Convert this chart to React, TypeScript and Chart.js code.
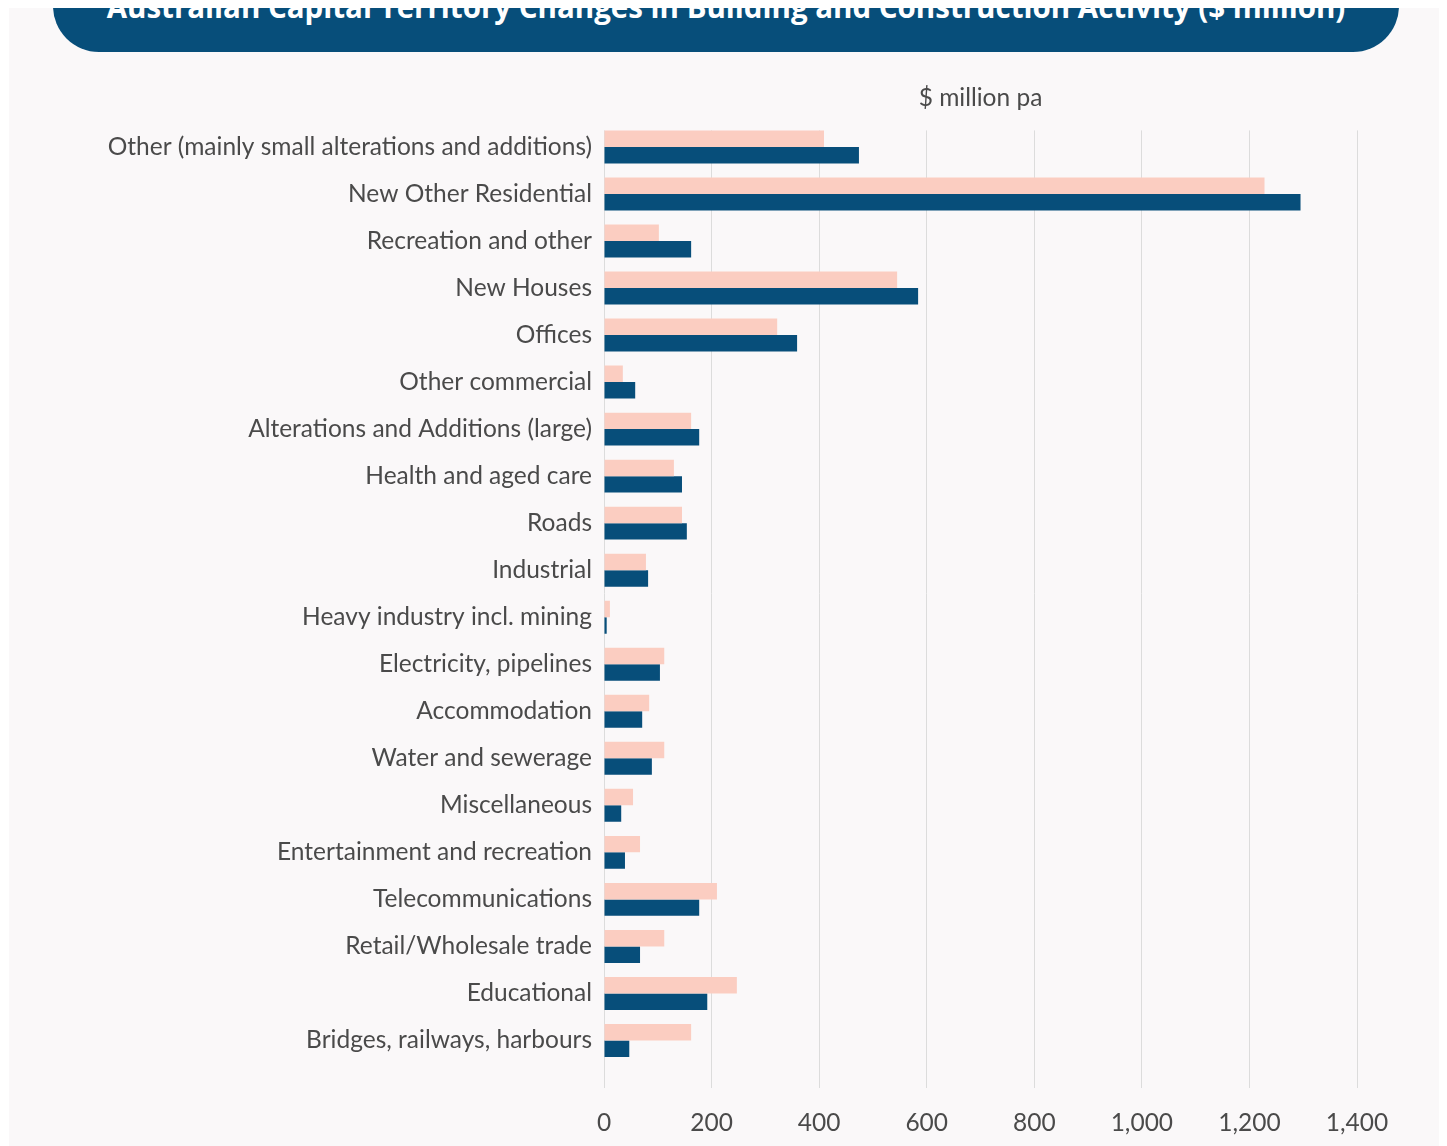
import React, { useEffect, useRef } from "react";
import { Chart, registerables } from "chart.js";

Chart.register(...registerables);

const categories = [
  "Other (mainly small alterations and additions)",
  "New Other Residential",
  "Recreation and other",
  "New Houses",
  "Offices",
  "Other commercial",
  "Alterations and Additions (large)",
  "Health and aged care",
  "Roads",
  "Industrial",
  "Heavy industry incl. mining",
  "Electricity, pipelines",
  "Accommodation",
  "Water and sewerage",
  "Miscellaneous",
  "Entertainment and recreation",
  "Telecommunications",
  "Retail/Wholesale trade",
  "Educational",
  "Bridges, railways, harbours",
];

const seriesA = [409, 1228, 102, 545, 322, 35, 162, 130, 145, 78, 11, 112, 84, 112, 54, 67, 210, 112, 247, 162];
const seriesB = [474, 1295, 162, 584, 359, 58, 177, 145, 154, 82, 5, 104, 71, 89, 32, 39, 177, 67, 192, 47];

const xMin = 0;
const xMax = 1400;
const xStep = 200;

const TITLE = "Australian Capital Territory Changes in Building and Construction Activity ($ million)";
const AXIS_TITLE = "$ million pa";

const BG = "#faf8f9";
const PINK = "#fbcdc1";
const BLUE = "#074e7a";
const TEXT = "#4a4a4a";
const FONT = "Lato, 'Open Sans', sans-serif";
const FS = 24.5;

const coverTop = {
  id: "coverTop",
  beforeDatasetsDraw(chart: any) {
    const { ctx, chartArea } = chart;
    ctx.save();
    ctx.fillStyle = BG;
    ctx.fillRect(chartArea.left - 2, chartArea.top - 1, chartArea.right - chartArea.left + 4, 8);
    ctx.restore();
  },
};

export default function App() {
  const ref = useRef<HTMLCanvasElement | null>(null);

  useEffect(() => {
    document.documentElement.style.overflow = "hidden";
    document.body.style.overflow = "hidden";
    if (!ref.current) return;
    const chart = new Chart(ref.current, {
      type: "bar",
      data: {
        labels: categories,
        datasets: [
          { label: "A", data: seriesA, backgroundColor: PINK, borderWidth: 0 },
          { label: "B", data: seriesB, backgroundColor: BLUE, borderWidth: 0 },
        ],
      },
      options: {
        indexAxis: "y",
        animation: false,
        responsive: false,
        devicePixelRatio: 1,
        datasets: { bar: { categoryPercentage: 0.7, barPercentage: 1.0 } },
        layout: { padding: { left: 0, right: 90, top: 0, bottom: 0 } },
        plugins: {
          legend: { display: false },
          tooltip: { enabled: false },
          title: { display: false },
        },
        scales: {
          x: {
            min: xMin,
            max: xMax,
            afterFit(scale: any) {
              scale.height = 82;
            },
            ticks: {
              stepSize: xStep,
              color: TEXT,
              font: { family: FONT, size: FS },
              padding: 20,
            },
            grid: { color: "#dcdcdc", lineWidth: 1, drawTicks: true, tickLength: 24 },
            border: { display: false },
          },
          x2: {
            type: "linear",
            position: "top",
            min: xMin,
            max: xMax,
            ticks: { display: false },
            grid: { display: false, drawTicks: false },
            border: { display: false },
            title: {
              display: true,
              text: AXIS_TITLE,
              color: TEXT,
              font: { family: FONT, size: FS, weight: "normal" },
              padding: { top: 75, bottom: 11 },
            },
          },
          y: {
            afterFit(scale: any) {
              scale.width = 595;
            },
            ticks: {
              color: TEXT,
              font: { family: FONT, size: FS },
              padding: 12,
              autoSkip: false,
            },
            grid: { display: false, drawTicks: false },
            border: { display: false },
          },
        },
      },
      plugins: [coverTop],
    });
    return () => chart.destroy();
  }, []);

  return (
    <div style={{ position: "relative", background: BG, marginLeft: 1, height: 1138, width: 1460 }}>
      <div
        style={{
          position: "absolute",
          left: 44,
          top: -48,
          width: 1346,
          height: 92,
          background: BLUE,
          borderRadius: 46,
          color: "#fff",
          fontFamily: "'Open Sans', sans-serif",
          fontWeight: 700,
          fontSize: 29.5,
          display: "flex",
          alignItems: "center",
          justifyContent: "center",
          whiteSpace: "nowrap",
          zIndex: 2,
        }}
      >
        {TITLE}
      </div>
      <canvas ref={ref} width={1438} height={1138} style={{ display: "block" }} />
    </div>
  );
}
